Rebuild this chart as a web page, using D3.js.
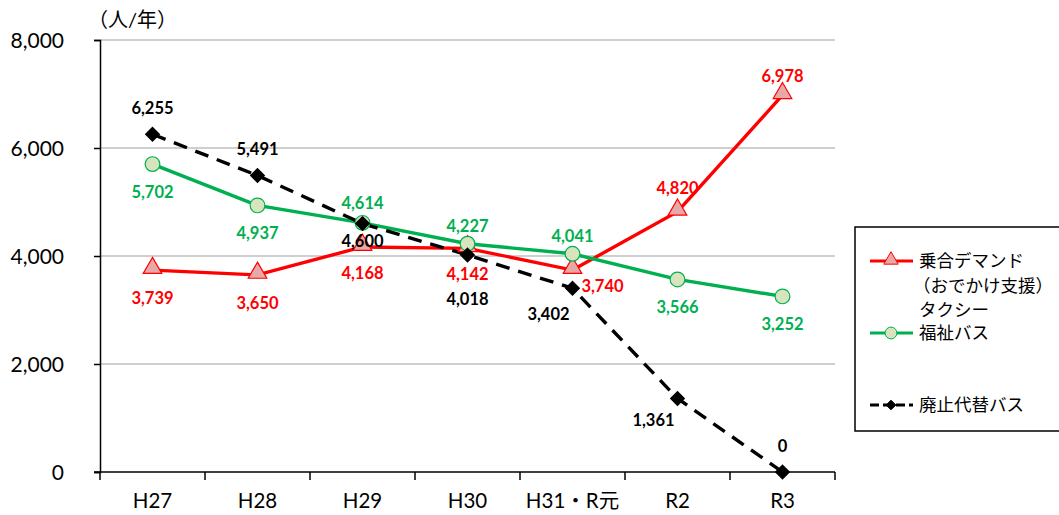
<!DOCTYPE html>
<html>
<head>
<meta charset="utf-8">
<script src="https://cdn.jsdelivr.net/npm/d3@7"></script>
<style>
  body { margin: 0; background: #fff; }
  svg { display: block; }
  text { font-family: Lato, "Noto Sans CJK JP", sans-serif; }
</style>
</head>
<body>
<svg id="chart" width="1059" height="515"></svg>
<script>
// Annual users per service (人/年)
const categories = ["H27", "H28", "H29", "H30", "H31・R元", "R2", "R3"];
const demandTaxi = [3739, 3650, 4168, 4142, 3740, 4820, 6978];
const welfareBus = [5702, 4937, 4614, 4227, 4041, 3566, 3252];
const replacementBus = [6255, 5491, 4600, 4018, 3402, 1361, 0];
const yTicks = [0, 2000, 4000, 6000, 8000];

// Label offsets per point: [dx, dy] relative to the marker
const demandLabelPos = [[0, 28], [0, 28], [0, 26], [0, 26], [30, 16], [0, -23], [0, -19]];
const welfareLabelPos = [[0, 28], [0, 28], [0, -20], [0, -18], [0, -18], [0, 28], [0, 28]];
const replacementLabelPos = [[0, -26], [0, -26], [0, 18], [0, 44], [-24, 26], [-24, 22], [0, -26]];

const svg = d3.select("#chart");
const margin = { left: 100, right: 224, top: 40, bottom: 43 };
const W = 1059, H = 515;

const x = d3.scaleBand().domain(categories).range([margin.left, W - margin.right]);
const y = d3.scaleLinear().domain([0, 8000]).range([H - margin.bottom, margin.top]);
const cx = d => x(d) + x.bandwidth() / 2;

// gridlines
svg.append("g").selectAll("line").data(yTicks.filter(d => d > 0)).join("line")
  .attr("x1", margin.left).attr("x2", W - margin.right)
  .attr("y1", d => y(d)).attr("y2", d => y(d))
  .attr("stroke", "#bfbfbf").attr("stroke-width", 1.5);

// y axis
const yAxis = svg.append("g").attr("transform", `translate(${margin.left},0)`)
  .call(d3.axisLeft(y).tickValues(yTicks).tickSize(6).tickPadding(30).tickFormat(d3.format(",")));
yAxis.select(".domain").attr("stroke", "#000").attr("stroke-width", 1.5);
yAxis.selectAll(".tick line").attr("stroke", "#000").attr("stroke-width", 1.5);
yAxis.selectAll("text").attr("font-size", 21).attr("fill", "#000").attr("dy", "0.35em");

// x axis with ticks at category boundaries
const xAxisG = svg.append("g").attr("transform", `translate(0,${y(0)})`);
xAxisG.append("line").attr("x1", margin.left - 6).attr("x2", W - margin.right)
  .attr("stroke", "#000").attr("stroke-width", 1.5);
const bounds = categories.map(c => x(c)).concat([x(categories[categories.length - 1]) + x.bandwidth()]);
xAxisG.selectAll(".bt").data(bounds).join("line").attr("class", "bt")
  .attr("x1", d => d).attr("x2", d => d).attr("y1", 0).attr("y2", 8)
  .attr("stroke", "#000").attr("stroke-width", 1.5);
xAxisG.selectAll(".xl").data(categories).join("text").attr("class", "xl")
  .attr("x", d => cx(d)).attr("y", 36).attr("text-anchor", "middle")
  .attr("font-size", 20.5).attr("fill", "#000").text(d => d);

// unit label
svg.append("text").attr("x", 88).attr("y", 27).attr("font-size", 20).attr("fill", "#000").text("（人/年）");

const line = d3.line().x((d, i) => cx(categories[i])).y(d => y(d));

// series definitions
const series = [
  { name: "demand", values: demandTaxi, color: "#ff0000", dash: null, marker: "triangle", fill: "#e6a9a8", labels: demandLabelPos },
  { name: "welfare", values: welfareBus, color: "#00b050", dash: null, marker: "circle", fill: "#d7e4bd", labels: welfareLabelPos },
  { name: "replacement", values: replacementBus, color: "#000000", dash: "14,9", marker: "diamond", fill: "#000", labels: replacementLabelPos }
];

const symbolFor = m => m === "triangle" ? d3.symbol().type(d3.symbolTriangle).size(150)
  : m === "circle" ? d3.symbol().type(d3.symbolCircle).size(170)
  : d3.symbol().type(d3.symbolDiamond2).size(120);

series.forEach(s => {
  svg.append("path").datum(s.values).attr("d", line)
    .attr("fill", "none").attr("stroke", s.color).attr("stroke-width", 3.4)
    .attr("stroke-dasharray", s.dash);
});

series.forEach(s => {
  const g = svg.append("g");
  g.selectAll("path").data(s.values).join("path")
    .attr("transform", (d, i) => `translate(${cx(categories[i])},${y(d) - (s.marker === "triangle" ? 2 : 0)})`)
    .attr("d", symbolFor(s.marker))
    .attr("fill", s.fill).attr("stroke", s.color).attr("stroke-width", 1.2);
});

series.forEach(s => {
  svg.append("g").selectAll("text").data(s.values).join("text")
    .attr("x", (d, i) => cx(categories[i]) + s.labels[i][0])
    .attr("y", (d, i) => y(d) + s.labels[i][1])
    .attr("text-anchor", "middle").attr("dy", "0.35em")
    .attr("font-size", 16.5).attr("font-weight", "bold").attr("fill", s.color)
    .text(d => d3.format(",")(d));
});

// legend
const lg = svg.append("g");
lg.append("rect").attr("x", 855).attr("y", 227).attr("width", 210).attr("height", 204)
  .attr("fill", "#fff").attr("stroke", "#000").attr("stroke-width", 1.5);
const legendRows = [
  { s: series[0], y: 261, text: ["乗合デマンド", "（おでかけ支援）", "タクシー"] },
  { s: series[1], y: 333, text: ["福祉バス"] },
  { s: series[2], y: 405, text: ["廃止代替バス"] }
];
legendRows.forEach(r => {
  lg.append("line").attr("x1", 870).attr("x2", 913).attr("y1", r.y).attr("y2", r.y)
    .attr("stroke", r.s.color).attr("stroke-width", 3.2)
    .attr("stroke-dasharray", r.s.dash ? "9,4" : null);
  lg.append("path").attr("transform", `translate(891,${r.y - (r.s.marker === "triangle" ? 1 : 0)})`)
    .attr("d", (r.s.marker === "triangle" ? d3.symbol().type(d3.symbolTriangle).size(90)
      : r.s.marker === "circle" ? d3.symbol().type(d3.symbolCircle).size(110)
      : d3.symbol().type(d3.symbolDiamond2).size(60))())
    .attr("fill", r.s.fill).attr("stroke", r.s.color).attr("stroke-width", 1);
  r.text.forEach((t, i) => {
    lg.append("text").attr("x", 919 - (i === 1 ? 6 : 0)).attr("y", r.y + i * 24.5).attr("dy", "0.35em")
      .attr("font-size", 17.5).attr("fill", "#000").text(t);
  });
});
</script>
</body>
</html>
